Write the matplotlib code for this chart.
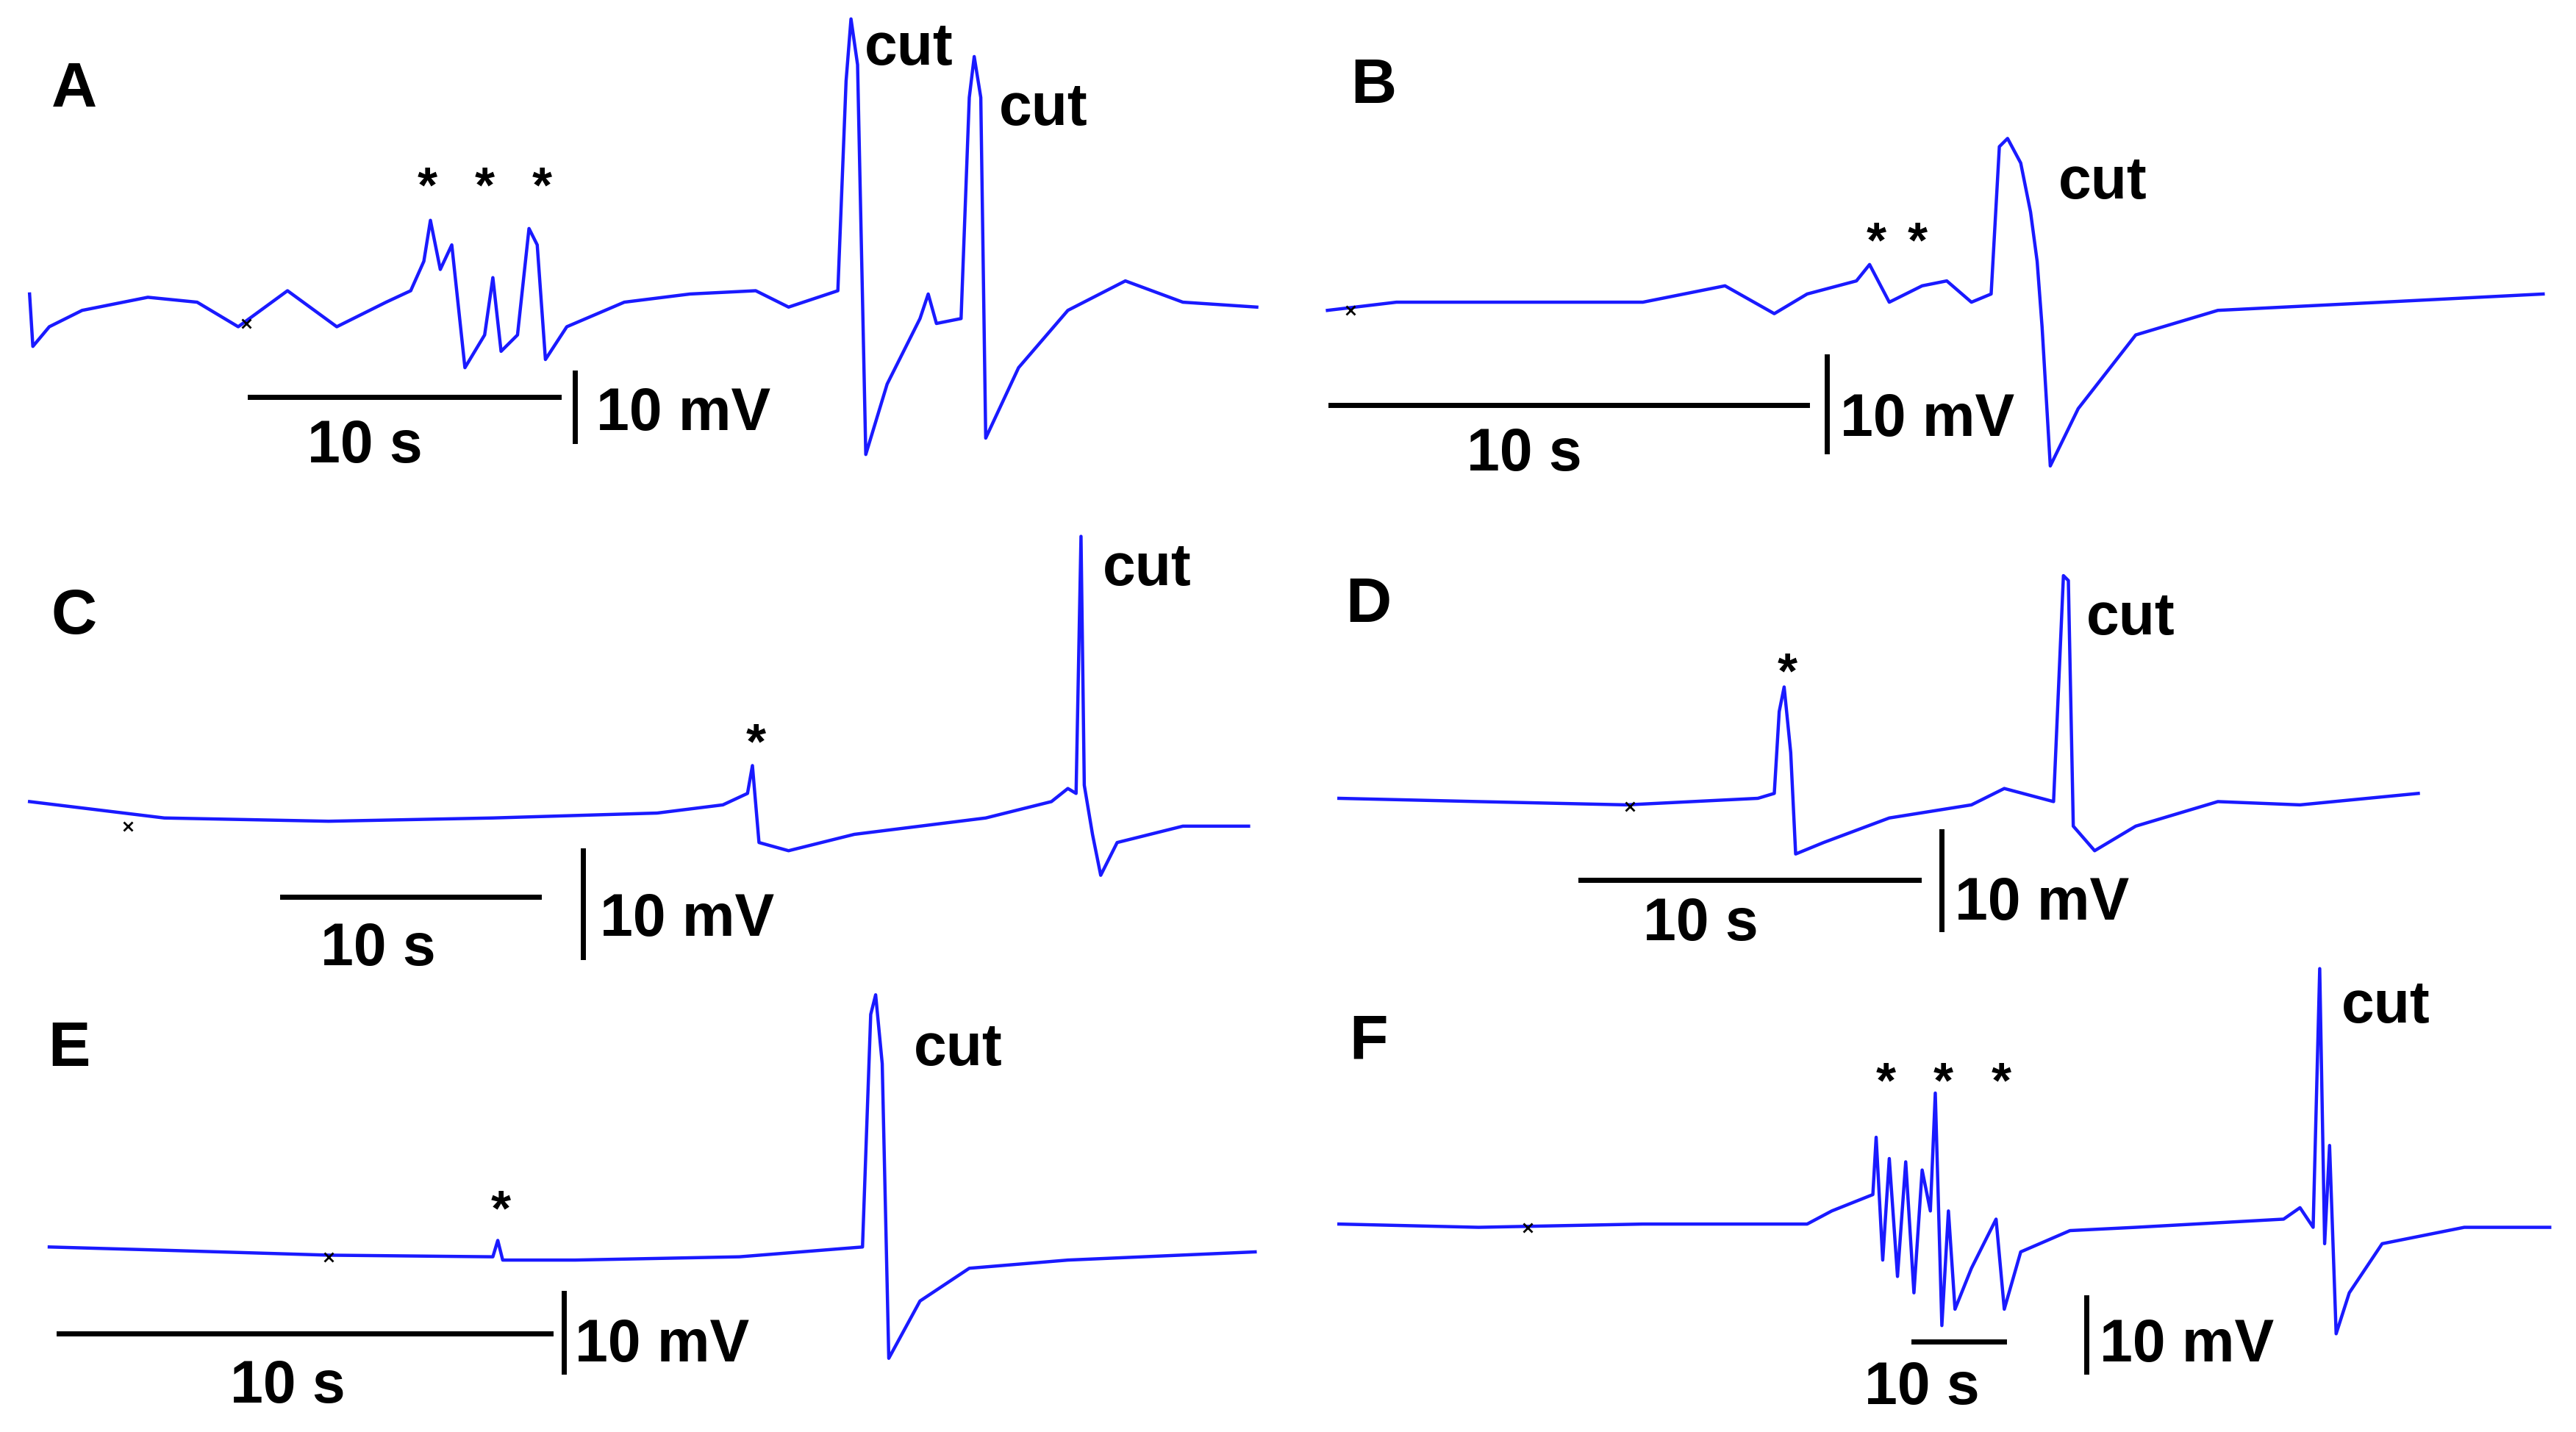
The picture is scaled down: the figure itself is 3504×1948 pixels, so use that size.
import matplotlib
matplotlib.use('Agg')
import matplotlib.pyplot as plt

# traces, in reference pixel units (x right, y down)
A_x = [18, 20, 30, 50, 90, 120, 145, 175, 205, 235, 250, 258, 262, 268, 275, 283, 295, 300, 305, 315, 322, 327, 332, 345, 380, 420, 460, 480, 510, 515, 518, 522, 527, 540, 560, 565, 570, 585, 590, 593, 597, 600, 620, 650, 685, 720, 765]
A_y = [180, 212, 200, 190, 182, 185, 200, 178, 200, 185, 178, 160, 135, 165, 150, 225, 205, 170, 215, 205, 140, 150, 220, 200, 185, 180, 178, 188, 178, 50, 12, 40, 278, 235, 195, 180, 198, 195, 60, 35, 60, 268, 225, 190, 172, 185, 188]
B_x = [808, 850, 900, 1000, 1050, 1080, 1100, 1130, 1138, 1150, 1170, 1185, 1200, 1212, 1217, 1222, 1230, 1236, 1240, 1243, 1248, 1265, 1300, 1350, 1450, 1548]
B_y = [190, 185, 185, 185, 175, 192, 180, 172, 162, 185, 175, 172, 185, 180, 90, 85, 100, 130, 160, 200, 285, 250, 205, 190, 185, 180]
C_x = [18, 100, 200, 300, 400, 440, 455, 458, 462, 480, 520, 600, 640, 650, 655, 658, 660, 665, 670, 680, 720, 760]
C_y = [490, 500, 502, 500, 497, 492, 485, 468, 515, 520, 510, 500, 490, 482, 485, 328, 480, 510, 535, 515, 505, 505]
D_x = [815, 900, 990, 1070, 1080, 1083, 1086, 1090, 1093, 1110, 1150, 1200, 1220, 1250, 1256, 1259, 1262, 1275, 1300, 1350, 1400, 1472]
D_y = [488, 490, 492, 488, 485, 435, 420, 460, 522, 515, 500, 492, 482, 490, 352, 355, 505, 520, 505, 490, 492, 485]
E_x = [30, 100, 200, 300, 303, 306, 350, 450, 525, 530, 533, 537, 541, 560, 590, 650, 764]
E_y = [762, 764, 767, 768, 758, 770, 770, 768, 762, 620, 608, 650, 830, 795, 775, 770, 765]
F_x = [815, 900, 1000, 1100, 1115, 1140, 1142, 1146, 1150, 1155, 1160, 1165, 1170, 1175, 1178, 1182, 1186, 1190, 1200, 1210, 1215, 1220, 1230, 1260, 1300, 1390, 1400, 1408, 1412, 1415, 1418, 1422, 1430, 1450, 1500, 1552]
F_y = [748, 750, 748, 748, 740, 730, 695, 770, 708, 780, 710, 790, 715, 740, 668, 810, 740, 800, 775, 755, 745, 800, 765, 752, 750, 745, 738, 750, 592, 760, 700, 815, 790, 760, 750, 750]

traces = [(A_x, A_y), (B_x, B_y), (C_x, C_y), (D_x, D_y), (E_x, E_y), (F_x, F_y)]
panel_labels = ['A', 'B', 'C', 'D', 'E', 'F']
label_pos = [(45, 50), (836, 48), (45, 372), (833, 365), (42, 636), (833, 632)]
stars = [[(260, 108), (295, 108), (330, 108)], [(1142, 142), (1167, 142)], [(460, 448)],
         [(1088, 405)], [(305, 733)], [(1148, 655), (1183, 655), (1218, 655)]]
cuts = [[(553, 25), (635, 62)], [(1280, 107)], [(698, 343)], [(1297, 373)], [(583, 636)], [(1452, 610)]]
# time bar (x0, x1, y), text pos; voltage bar (x, y0, y1), text pos
tbars = [(152, 340, 243), (810, 1100, 248), (172, 328, 548), (962, 1168, 538), (36, 335, 815), (1165, 1220, 820)]
ttext = [(222, 268), (928, 273), (230, 575), (1035, 560), (175, 842), (1170, 843)]
vbars = [(350, 228, 270), (1112, 218, 276), (355, 520, 585), (1182, 508, 568), (343, 790, 838), (1270, 793, 838)]
vtext = [(363, 248), (1120, 252), (365, 557), (1190, 547), (350, 817), (1278, 817)]
xmarks = [(150, 198), (822, 190), (78, 505), (992, 493), (200, 768), (930, 750)]

fig = plt.figure(figsize=(35.04, 19.49), dpi=100)
ax = fig.add_axes([0, 0, 1, 1])
ax.set_xlim(0, 1568)
ax.set_ylim(875, 0)
ax.axis('off')

font = dict(family='Liberation Sans', weight='bold')
dy = 5  # text sits a little lower than center_baseline
for i in range(6):
    x, y = traces[i]
    ax.plot(x, y, color='#1a1aff', lw=3.2)
    ax.plot(*xmarks[i], marker='x', color='black', ms=9, mew=2)
    lx, ly = label_pos[i]
    ax.text(lx, ly + dy, panel_labels[i], fontsize=62, ha='center', va='center', **font)
    for sx, sy in stars[i]:
        ax.text(sx, sy + 7, '*', fontsize=50, ha='center', va='center', **font)
    for cx, cy in cuts[i]:
        ax.text(cx, cy + dy, 'cut', fontsize=58, ha='center', va='center', **font)
    x0, x1, yb = tbars[i]
    ax.plot([x0, x1], [yb, yb], color='black', lw=5)
    tx, ty = ttext[i]
    ax.text(tx, ty + dy, '10 s', fontsize=58, ha='center', va='center', **font)
    xv, y0, y1 = vbars[i]
    ax.plot([xv, xv], [y0, y1], color='black', lw=5)
    vx, vy = vtext[i]
    ax.text(vx, vy + dy, '10 mV', fontsize=58, ha='left', va='center', **font)

fig.savefig('out.png', dpi=100)
